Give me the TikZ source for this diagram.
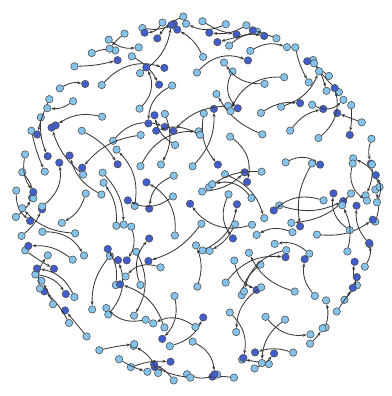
\documentclass[tikz,border=0pt]{standalone}
\usetikzlibrary{arrows.meta}
\definecolor{lightv}{RGB}{132,196,236}
\definecolor{darkv}{RGB}{66,94,204}
\begin{document}
\begin{tikzpicture}[
  x=0.05cm, y=-0.05cm,
  >={Stealth[length=2mm, width=1.5mm]},
  vtx/.style = {circle, draw=gray!60!black, line width=0.8pt, inner sep=0pt, minimum size=0.37cm},
  src/.style = {vtx, fill=lightv},
  snk/.style = {vtx, fill=darkv},
  arr/.style = {->, line width=1.2pt, black!78},
]
  \useasboundingbox (0,0) rectangle (392,396);
  \pgfmathsetseed{2718}
  % rim: each vertex points to a neighbour further along the circle
  \foreach \i in {1,...,56}{
    \pgfmathsetmacro\a{\i*(360/56)+3*rnd}
    \pgfmathsetmacro\r{184*(0.96+0.04*rnd)}
    \pgfmathsetmacro\da{(6+7*rnd)*(random(0,1)*2-1)}
    \pgfmathsetmacro\rr{184*(0.84+0.14*rnd)}
    \pgfmathsetmacro\b{50*rnd-25}
    \pgfmathtruncatemacro\k{random(1,10)}
    \ifnum\k<7 \def\tst{snk}\else\def\tst{src}\fi
    \node[src]    (ra\i) at ({198+\r*cos(\a)}, {199+\r*sin(\a)}) {};
    \node[\tst]   (rb\i) at ({198+\rr*cos(\a+\da)}, {199+\rr*sin(\a+\da)}) {};
    \draw[arr] (ra\i) to[bend left=\b] (rb\i);
  }
  % inside: one curved link per cell of a jittered grid
  \foreach \gx in {-5,...,5}{
   \foreach \gy in {-5,...,5}{
    \pgfmathtruncatemacro\n{(\gx+5)*11+\gy+5}
    \pgfmathsetmacro\sx{198+30*\gx+18*rnd-9}
    \pgfmathsetmacro\sy{199+30*\gy+18*rnd-9}
    \pgfmathsetmacro\t{360*rnd}
    \pgfmathsetmacro\l{34+34*rnd}
    \pgfmathsetmacro\tx{\sx+\l*cos(\t)-198}
    \pgfmathsetmacro\ty{\sy+\l*sin(\t)-199}
    \pgfmathsetmacro\f{min(1,176/max(1,veclen(\tx,\ty)))}
    \pgfmathsetmacro\b{(15+20*rnd)*(random(0,1)*2-1)}
    \pgfmathtruncatemacro\k{random(1,10)}
    \pgfmathtruncatemacro\inside{veclen(\sx-198,\sy-199)<160}
    \ifnum\k<7 \def\tst{snk}\else\def\tst{src}\fi
    \ifnum\inside=1
      \node[src]    (ia\n) at (\sx, \sy) {};
      \node[\tst]   (ib\n) at ({198+\f*\tx}, {199+\f*\ty}) {};
      \draw[arr] (ia\n) to[bend left=\b] (ib\n);
    \fi
   }
  }
\end{tikzpicture}
\end{document}
